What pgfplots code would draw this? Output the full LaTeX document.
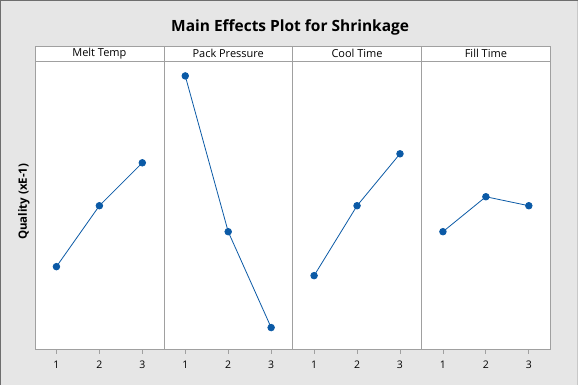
\documentclass[border=0pt]{standalone}
\usepackage{fontspec}
\setmainfont{Open Sans}
\usepackage{pgfplots}
\pgfplotsset{compat=1.18}
\definecolor{bgc}{HTML}{E6E6E6}
\definecolor{framec}{HTML}{A0A0A0}
\definecolor{linec}{HTML}{0B5AA6}
\begin{document}
\begin{tikzpicture}
\fill[bgc] (0pt,0pt) rectangle (579pt,385pt);
\draw[color={rgb,255:red,110;green,110;blue,110}, line width=1.5pt] (0.75pt,0pt) -- (0.75pt,384.25pt) -- (579pt,384.25pt);
\draw[color={rgb,255:red,200;green,200;blue,200}, line width=1pt] (578.5pt,0pt) -- (578.5pt,384pt);
\node[font=\fontsize{15.5}{16}\selectfont\bfseries, anchor=base] at (290.5pt,353pt) {Main Effects Plot for Shrinkage};
\node[font=\fontsize{11.5}{12}\selectfont\bfseries, rotate=90] at (24pt,183pt) {Quality (xE-1)};
\pgfplotsset{
  panel/.style={
    at={(#1pt,35pt)}, anchor=south west,
    scale only axis, width=129pt, height=289pt,
    xmin=0.5, xmax=3.5, ymin=0, ymax=28.9,
    xtick={1,2,3}, ytick=\empty,
    xtick pos=bottom, tick align=outside,
    major tick length=4pt,
    axis line style={framec},
    every tick/.style={framec, line width=0.8pt},
    /pgf/number format/assume math mode=true,
    tick label style={font=\fontsize{10.5}{11}\selectfont, text=black},
    xticklabel style={yshift=-4pt},
    axis background/.style={fill=white},
    every axis title shift=0pt,
    title style={draw=framec, fill=white, minimum width=129pt, minimum height=15pt, inner sep=0pt, at={(0.5,1)}, anchor=south, font=\fontsize{11}{11}\selectfont},
    every axis plot post/.append style={draw=linec, line width=0.8pt, mark=*, mark size=3.3pt, mark options={fill=linec, draw=linec}},
  }
}
\begin{axis}[panel=35, title={Melt Temp}]
\addplot coordinates {(1,8.3) (2,14.4) (3,18.7)};
\end{axis}
\begin{axis}[panel=164, title={Pack Pressure}]
\addplot coordinates {(1,27.4) (2,11.8) (3,2.2)};
\end{axis}
\begin{axis}[panel=293, title={Cool Time}]
\addplot coordinates {(1,7.4) (2,14.4) (3,19.6)};
\end{axis}
\begin{axis}[panel=422, title={Fill Time}]
\addplot coordinates {(1,11.8) (2,15.3) (3,14.4)};
\end{axis}
\end{tikzpicture}
\end{document}
